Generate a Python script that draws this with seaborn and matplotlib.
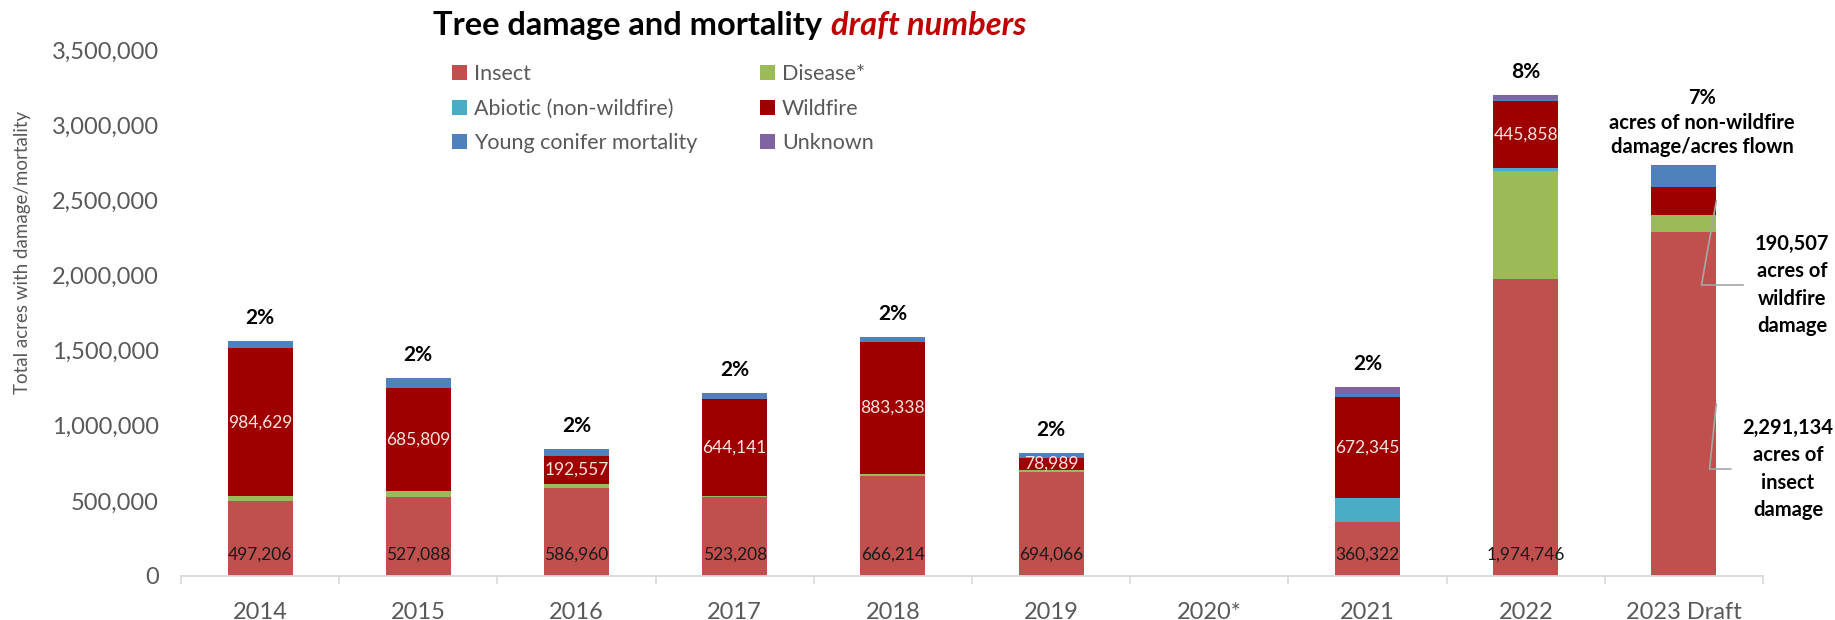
import matplotlib
matplotlib.use("Agg")
import matplotlib.pyplot as plt
import seaborn as sns
import pandas as pd
import numpy as np
from matplotlib.ticker import FuncFormatter, FixedLocator

# ---------------- data ----------------
years = ['2014', '2015', '2016', '2017', '2018', '2019', '2020*', '2021', '2022', '2023 Draft']
insect = [497206, 527088, 586960, 523208, 666214, 694066, 0, 360322, 1974746, 2291134]
disease = [33000, 38000, 22000, 12000, 10000, 8000, 0, 0, 717000, 110000]
abiotic = [0, 0, 0, 0, 0, 5000, 0, 156000, 22000, 0]
wildfire = [984629, 685809, 192557, 644141, 883338, 78989, 0, 672345, 445858, 190507]
young_conifer = [49000, 67000, 44000, 38000, 29000, 30000, 0, 25000, 12000, 135000]
unknown = [0, 0, 0, 0, 0, 0, 0, 42000, 27000, 5000]
pct_labels = ['2%', '2%', '2%', '2%', '2%', '2%', '', '2%', '8%', '7%']
insect_labelled = [True, True, True, True, True, True, False, True, True, False]
wildfire_labelled = [True, True, True, True, True, True, False, True, True, False]

series_names = ['Insect', 'Disease*', 'Abiotic (non-wildfire)', 'Wildfire',
                'Young conifer mortality', 'Unknown']
series_vals = [insect, disease, abiotic, wildfire, young_conifer, unknown]
colors = ['#C0504D', '#9BBB59', '#4BACC6', '#9E0000', '#4F81BD', '#8064A2']

# ---------------- style ----------------
sns.set_theme(style='white')
plt.rcParams['font.family'] = ['Lato', 'DejaVu Sans']
GRAY = '#595959'

W, H = 1835, 620
fig = plt.figure(figsize=(W / 100, H / 100), dpi=100)
ax = fig.add_axes([181 / W, 44 / H, (1763 - 181) / W, (576 - 50) / H])

cum = np.zeros(len(years))
cums = []
for vals in series_vals:
    cum = cum + np.array(vals, dtype=float)
    cums.append(cum.copy())

# draw cumulative layers from the top down so they appear stacked
for name, c, col in reversed(list(zip(series_names, cums, colors))):
    d = pd.DataFrame({'year': years, 'value': c})
    sns.barplot(data=d, x='year', y='value', order=years, color=col,
                saturation=1, width=0.41, linewidth=0, ax=ax, label=name, errorbar=None)

ax.set_ylim(0, 3_500_000)
ax.set_xlim(-0.5, len(years) - 0.5)
ax.yaxis.set_major_locator(FixedLocator(np.arange(0, 3_500_001, 500_000)))
ax.yaxis.set_major_formatter(FuncFormatter(lambda v, p: f'{int(v):,}'))
ax.set_xlabel('')
ax.set_ylabel('')
for s in ['left', 'top', 'right']:
    ax.spines[s].set_visible(False)
ax.spines['bottom'].set_color('#D9D9D9')
ax.spines['bottom'].set_linewidth(1.3)
ax.tick_params(axis='y', length=0, pad=16, labelsize=17, labelcolor=GRAY)
ax.tick_params(axis='x', which='major', length=0, pad=19, labelsize=17, labelcolor=GRAY)
ax.set_xticks(np.arange(-0.5, len(years), 1.0), minor=True)
ax.tick_params(axis='x', which='minor', length=6, width=1.2, color='#D9D9D9', bottom=True)
if ax.legend_:
    ax.legend_.remove()

# ---------------- data labels ----------------
base_wild = np.array(insect) + np.array(disease) + np.array(abiotic)
totals = cums[-1]
for i in range(len(years)):
    if insect_labelled[i]:
        ax.annotate(f'{insect[i]:,}', xy=(i, 0), xytext=(0, 21), textcoords='offset pixels',
                    ha='center', va='center', fontsize=12.5, color='#1A1A1A')
    if wildfire_labelled[i]:
        ax.annotate(f'{wildfire[i]:,}', xy=(i, base_wild[i] + wildfire[i] / 2),
                    ha='center', va='center', fontsize=12.5, color='#FCE4E4')
    if pct_labels[i] and i != len(years) - 1:
        ax.annotate(pct_labels[i], xy=(i, totals[i]), xytext=(0, 23), textcoords='offset pixels',
                    ha='center', va='center', fontsize=15, fontweight='bold', color='black')

last = len(years) - 1
ax.annotate(f'{pct_labels[last]}\nacres of non-wildfire\ndamage/acres flown',
            xy=(last, totals[last]), xytext=(18, 8), textcoords='offset pixels',
            ha='center', va='bottom', fontsize=14.5, fontweight='bold', color='black',
            linespacing=1.3, multialignment='center')

ax.annotate(f'{wildfire[last]:,}\nacres of\nwildfire\ndamage',
            xy=(last + 0.205, base_wild[last] + wildfire[last] * 0.5),
            xytext=(1792, H - 285), textcoords='figure pixels',
            ha='center', va='center', fontsize=14.5, fontweight='bold', color='black',
            linespacing=1.45, multialignment='center', annotation_clip=False,
            arrowprops=dict(arrowstyle='-', color='#A6A6A6', lw=1.2, relpos=(0, 0.5),
                            shrinkA=6, shrinkB=0,
                            connectionstyle='angle,angleA=180,angleB=80,rad=0'))
ax.annotate(f'{insect[last]:,}\nacres of\ninsect\ndamage',
            xy=(last + 0.205, insect[last] * 0.5),
            xytext=(1788, H - 469), textcoords='figure pixels',
            ha='center', va='center', fontsize=14.5, fontweight='bold', color='black',
            linespacing=1.45, multialignment='center', annotation_clip=False,
            arrowprops=dict(arrowstyle='-', color='#A6A6A6', lw=1.2, relpos=(0, 0.5),
                            shrinkA=6, shrinkB=0,
                            connectionstyle='angle,angleA=180,angleB=84,rad=0'))

# ---------------- legend ----------------
handles, labels = ax.get_legend_handles_labels()
hmap = dict(zip(labels, handles))
order = ['Insect', 'Abiotic (non-wildfire)', 'Young conifer mortality',
         'Disease*', 'Wildfire', 'Unknown']
fig.legend([hmap[k] for k in order], order, ncol=2, loc='upper left',
           bbox_to_anchor=(452 / W, 1 - 64 / H), frameon=False, fontsize=15.5,
           labelcolor=GRAY, handlelength=0.7, handleheight=0.7, handletextpad=0.3,
           columnspacing=2.95, labelspacing=0.68, borderpad=0, borderaxespad=0)

# ---------------- axis title & chart title ----------------
fig.text(23 / W, 1 - 252 / H, 'Total acres with damage/mortality', rotation=90,
         ha='center', va='center', fontsize=13.5, color=GRAY)
t1 = fig.text(433 / W, 1 - 40 / H, 'Tree damage and mortality', ha='left', va='bottom',
              fontsize=23.5, fontweight='bold', color='black')
ax.annotate('draft numbers', xy=(1, 0), xycoords=t1, xytext=(9, 0), textcoords='offset pixels',
            ha='left', va='bottom', fontsize=23.5, fontweight='bold', fontstyle='italic',
            color='#C00000', annotation_clip=False)

fig.savefig('out.png', dpi=100)
